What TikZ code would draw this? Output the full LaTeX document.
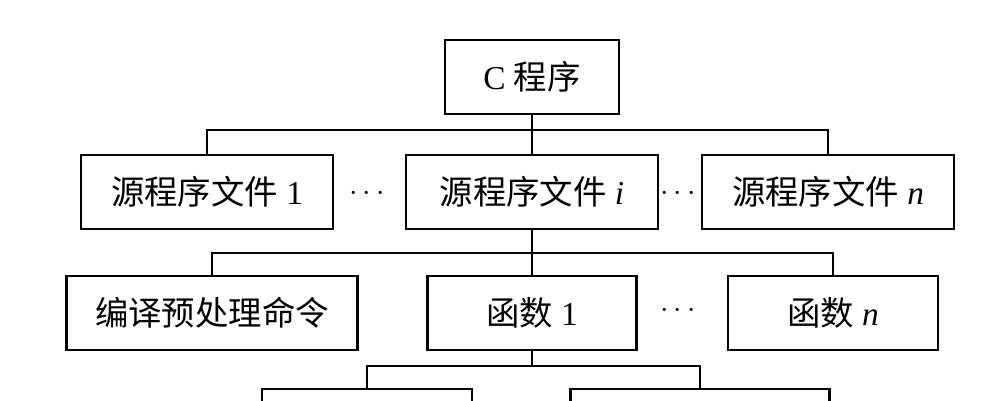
\documentclass[tikz,border=0pt]{standalone}
\usepackage{fontspec}
\setmainfont{Liberation Serif}
\newfontfamily\cjk{Noto Sans CJK SC}
\begin{document}
\begin{tikzpicture}[x=0.02cm,y=-0.02cm,
  box/.style 2 args={draw, line width=1.4pt, inner sep=0pt, font=\fontsize{19}{19}\selectfont,
     minimum width=#1*0.02cm, minimum height=#2*0.02cm},
  ln/.style={line width=1.4pt},
  dots/.style={font=\fontsize{16}{16}\selectfont}]
\useasboundingbox (0,0) rectangle (1000,400);
\node[box={174}{74}] (c) at (532,77) {C {\cjk 程序}};
\node[box={252}{74}] (s1) at (207,192) {{\cjk 源程序文件} 1};
\node[box={252}{74}] (si) at (532,192) {{\cjk 源程序文件} \textit{i}};
\node[box={252}{74}] (sn) at (828,192) {{\cjk 源程序文件} \textit{n}};
\node[dots] (d1) at (367,194) {$\cdots$};
\node[dots] (d2) at (678,194) {$\cdots$};
\node[box={291}{74}] (p) at (212,313) {\cjk 编译预处理命令};
\node[box={209}{74}] (f1) at (532,313) {{\cjk 函数} 1};
\node[box={210}{74}] (fn) at (833,313) {{\cjk 函数} \textit{n}};
\node[dots] (d3) at (678,311) {$\cdots$};
\node[box={210}{74}, anchor=north] (b1) at (367,388) {};
\node[box={259}{74}, anchor=north] (b2) at (700,388) {};
\coordinate (j1) at (532,130);
\coordinate (j2) at (532,253);
\coordinate (j3) at (532,366);
\draw[ln] (c.south) -- (j1);
\draw[ln] (s1.north) |- (j1) -| (sn.north);
\draw[ln] (j1) -- (si.north);
\draw[ln] (si.south) -- (j2);
\draw[ln] (p.north) |- (j2) -| (fn.north);
\draw[ln] (j2) -- (f1.north);
\draw[ln] (f1.south) -- (j3);
\draw[ln] (b1.north) |- (j3) -| (b2.north);
\end{tikzpicture}
\end{document}
